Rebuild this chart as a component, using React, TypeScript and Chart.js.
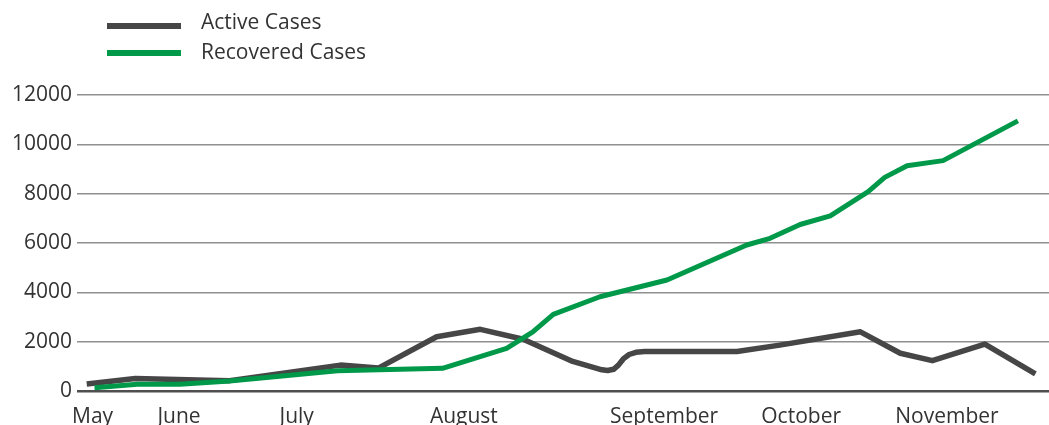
import React, { useEffect, useRef } from "react";
import { Chart, registerables } from "chart.js";

Chart.register(...registerables);

// Month labels and their positions on the timeline axis (0–100)
const monthLabels = ["May", "June", "July", "August", "September", "October", "November"];
const monthPositions = [1.6, 10.5, 22.6, 39.8, 60.4, 74.5, 89.5];

// Active cases
const activeX = [1.0, 6.0, 15.7, 27.1, 31.0, 37.0, 41.5, 45.9, 51.0, 54.0, 54.6, 55.2, 55.7, 56.2, 56.8, 57.5, 58.4, 67.9, 72.3, 80.6, 84.7, 88.0, 93.4, 98.6];
const activeY = [280, 510, 420, 1050, 930, 2200, 2500, 2100, 1200, 860, 830, 880, 1050, 1300, 1480, 1570, 1600, 1600, 1860, 2400, 1530, 1230, 1900, 690];

// Recovered cases
const recoveredX = [1.8, 6.2, 10.6, 15.7, 26.8, 37.6, 44.2, 46.9, 49.0, 53.8, 60.7, 68.9, 71.3, 74.4, 77.5, 81.4, 83.1, 85.4, 89.1, 96.8];
const recoveredY = [130, 270, 270, 410, 820, 920, 1730, 2400, 3110, 3820, 4500, 5920, 6190, 6750, 7100, 8080, 8660, 9130, 9340, 10950];

const yTicks = [0, 2000, 4000, 6000, 8000, 10000, 12000];

const seriesNames = ["Active Cases", "Recovered Cases"];
const seriesColors = ["#464646", "#00994A"];

const FONT = "'Open Sans', sans-serif";

export default function App() {
  const canvasRef = useRef<HTMLCanvasElement | null>(null);

  useEffect(() => {
    const canvas = canvasRef.current;
    if (!canvas) return;
    const chart = new Chart(canvas, {
      type: "line",
      data: {
        datasets: [
          {
            label: seriesNames[0],
            data: activeX.map((x, i) => ({ x, y: activeY[i] })),
            borderColor: seriesColors[0],
            backgroundColor: seriesColors[0],
            borderWidth: 5.5,
            pointRadius: 0,
            tension: 0,
            borderJoinStyle: "round",
            borderCapStyle: "butt",
            order: 2,
          },
          {
            label: seriesNames[1],
            data: recoveredX.map((x, i) => ({ x, y: recoveredY[i] })),
            borderColor: seriesColors[1],
            backgroundColor: seriesColors[1],
            borderWidth: 5,
            pointRadius: 0,
            tension: 0,
            borderJoinStyle: "round",
            borderCapStyle: "butt",
            order: 1,
          },
        ],
      },
      options: {
        animation: false,
        responsive: false,
        maintainAspectRatio: false,
        layout: { padding: { top: 95, left: 0, right: 0, bottom: 0 } },
        plugins: {
          legend: { display: false },
          tooltip: { enabled: false },
        },
        scales: {
          x: {
            type: "linear",
            min: 0,
            max: 100,
            grid: { display: false, drawTicks: false },
            border: { display: false },
            afterBuildTicks: (scale: any) => {
              scale.ticks = monthPositions.map((value) => ({ value }));
            },
            afterFit: (scale: any) => {
              scale.height = 34;
            },
            ticks: {
              autoSkip: false,
              maxRotation: 0,
              minRotation: 0,
              padding: 13,
              color: "#333333",
              font: { family: FONT, size: 21 },
              callback: (_v: any, i: number) => monthLabels[i],
            },
          },
          y: {
            type: "linear",
            min: 0,
            max: 12000,
            afterBuildTicks: (scale: any) => {
              scale.ticks = yTicks.map((value) => ({ value }));
            },
            afterFit: (scale: any) => {
              scale.width = 77;
            },
            grid: {
              drawTicks: false,
              color: (ctx: any) => (ctx.tick && ctx.tick.value === 0 ? "#4f4f4f" : "#8f8f8f"),
              lineWidth: (ctx: any) => (ctx.tick && ctx.tick.value === 0 ? 2.5 : 1.5),
            },
            border: { display: false },
            ticks: {
              padding: 5,
              color: "#333333",
              font: { family: FONT, size: 21 },
              callback: (v: any) => String(v),
            },
          },
        },
      },
    });
    return () => chart.destroy();
  }, []);

  const legendRows = [
    { top: 26, textTop: 22 },
    { top: 52.8, textTop: 51.2 },
  ];

  return (
    <div style={{ position: "absolute", left: 0, top: 0, width: 1049, height: 425, background: "#ffffff" }}>
      <canvas ref={canvasRef} width={1049} height={425} style={{ display: "block", width: 1049, height: 425 }} />
      {seriesNames.map((name, i) => (
        <React.Fragment key={name}>
          <div
            style={{
              position: "absolute",
              left: 107,
              top: legendRows[i].top - 2.75,
              width: 74,
              height: 5.5,
              background: seriesColors[i],
            }}
          />
          <div
            style={{
              position: "absolute",
              left: 201,
              top: legendRows[i].textTop - 10.6,
              fontFamily: FONT,
              fontSize: 21,
              lineHeight: "21px",
              color: "#333333",
              whiteSpace: "nowrap",
            }}
          >
            {name}
          </div>
        </React.Fragment>
      ))}
    </div>
  );
}
